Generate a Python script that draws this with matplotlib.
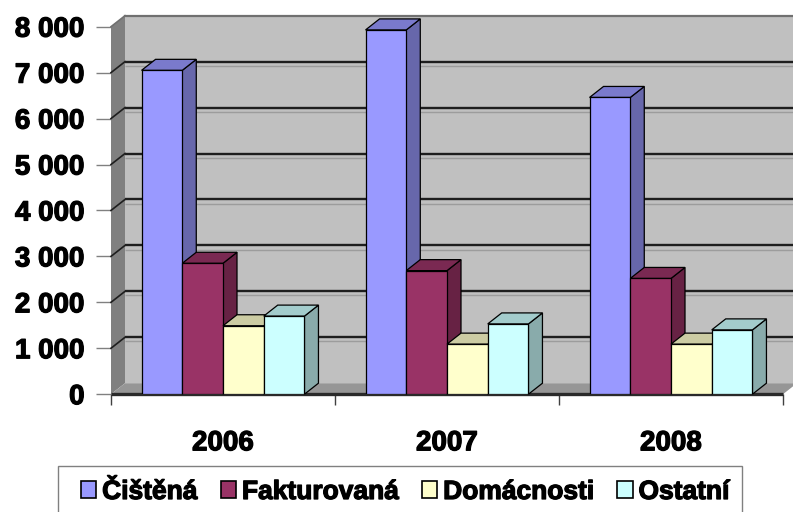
"""Excel-style 3D clustered column chart: Čištěná / Fakturovaná / Domácnosti / Ostatní, 2006-2008."""

import matplotlib
matplotlib.use("Agg")
from matplotlib import pyplot as plt
from matplotlib import patheffects
from matplotlib.patches import Polygon, Rectangle, Patch
from matplotlib.ticker import FuncFormatter
import numpy as np

YEARS = ["2006", "2007", "2008"]
SERIES = ["Čištěná", "Fakturovaná", "Domácnosti", "Ostatní"]
CISTENA = [7050, 7930, 6460]
FAKTUROVANA = [2850, 2690, 2520]
DOMACNOSTI = [1490, 1090, 1090]
OSTATNI = [1700, 1530, 1400]
VALUES = [CISTENA, FAKTUROVANA, DOMACNOSTI, OSTATNI]
YTICKS = [0, 1000, 2000, 3000, 4000, 5000, 6000, 7000, 8000]

FRONT = ["#9999FF", "#993366", "#FFFFCC", "#CCFFFF"]

DX, DY = 14, 11        # depth offset in pixels
GAP = 1.5              # Excel gap width 150 %
FONT = "Liberation Sans"
HEAVY = [patheffects.withStroke(linewidth=0.9, foreground="black")]

plt.rcParams["font.family"] = [FONT, "DejaVu Sans"]
plt.rcParams["font.weight"] = "bold"


def shade(hexcol, k):
    return np.array(matplotlib.colors.to_rgb(hexcol)) * k


fig = plt.figure(figsize=(7.93, 5.12), dpi=100)
W, H = 793, 512
ax = fig.add_axes([111 / W, (H - 394.2) / H, 672 / W, 367.5 / H])
ax.set_xlim(0, 3)
ax.set_ylim(0, 8000)
for s in ax.spines.values():
    s.set_visible(False)
ax.patch.set_visible(False)


def back(x, y):
    p = ax.transData.transform((x, y))
    return ax.transData.inverted().transform(p + np.array([DX, DY]))


def poly(pts, **kw):
    ax.add_patch(Polygon(pts, closed=True, clip_on=False, **kw))


# walls and floor
poly([back(0, 0), back(3, 0), back(3, 8000), back(0, 8000)],
     facecolor="#C0C0C0", edgecolor="none", zorder=1)
poly([(0, 0), (0, 8000), back(0, 8000), back(0, 0)],
     facecolor="#808080", edgecolor="none", zorder=1)
poly([(0, 0), (3, 0), back(3, 0), back(0, 0)],
     facecolor="#969696", edgecolor="none", zorder=1)

for v in YTICKS[1:-1]:
    b0, b1 = back(0, v), back(3, v)
    ax.plot([b0[0], b1[0]], [b0[1] - 90, b1[1] - 90], color="#9C9C9C", lw=1.0,
            zorder=2, clip_on=False, solid_capstyle="butt")
    ax.plot([b0[0], b1[0]], [b0[1], b1[1]], color="#1E1E1E", lw=1.7,
            zorder=2, clip_on=False, solid_capstyle="butt")
    ax.plot([0, b0[0]], [v, b0[1]], color="#1E1E1E", lw=1.2,
            zorder=2, clip_on=False)
t0, t1 = back(0, 8000), back(3, 8000)
ax.plot([t0[0], t1[0]], [t0[1], t1[1]], color="#707070", lw=1.6,
        zorder=2, clip_on=False)
ax.plot([0, t0[0]], [8000, t0[1]], color="#707070", lw=1.2, zorder=2, clip_on=False)
ax.plot([0, 3], [0, 0], color="#2A2A2A", lw=2.4, zorder=3, clip_on=False,
        solid_capstyle="butt")

# bars
w = 1 / (len(SERIES) + GAP)
x_group = np.arange(len(YEARS)) + GAP / 2 * w
for j, (vals, col) in enumerate(zip(VALUES, FRONT)):
    x0s = x_group + j * w
    for x0, h in zip(x0s, vals):
        poly([(x0 + w, 0), (x0 + w, h), back(x0 + w, h), back(x0 + w, 0)],
             facecolor=shade(col, 0.67), edgecolor="black", lw=0.9,
             zorder=10 + 2 * j)
        poly([(x0, h), (x0 + w, h), back(x0 + w, h), back(x0, h)],
             facecolor=shade(col, 0.8), edgecolor="black", lw=0.9,
             zorder=10 + 2 * j)
    ax.bar(x0s, vals, width=w, align="edge", color=col, edgecolor="black",
           lw=0.9, zorder=11 + 2 * j)

# axes ticks
ax.set_yticks(YTICKS)
ax.yaxis.set_major_formatter(FuncFormatter(lambda v, _: f"{v:,.0f}".replace(",", " ")))
ax.tick_params(axis="y", length=11, color="#808080", width=1, pad=8,
               labelsize=20)
ax.set_xticks([0, 1, 2, 3])
ax.set_xticklabels([])
ax.set_xticks([0.5, 1.5, 2.5], minor=True)
ax.set_xticklabels(YEARS, minor=True)
ax.tick_params(axis="x", which="major", length=8, color="#404040", width=1)
ax.tick_params(axis="x", which="minor", length=0, pad=26, labelsize=20)
for lab in ax.get_yticklabels() + ax.get_xticklabels(minor=True):
    lab.set_path_effects(HEAVY)

# legend
handles = [Patch(facecolor=c, edgecolor="black", lw=1.2) for c in FRONT]
leg = fig.legend(handles, SERIES, ncol=4, loc="center left",
                 bbox_to_anchor=(81 / W, 1 - 492 / H), frameon=False,
                 borderpad=0, borderaxespad=0, handlelength=0.58, handleheight=0.62,
                 handletextpad=0.22, columnspacing=0.88,
                 prop={"family": FONT, "weight": "bold", "size": 19})
for t in leg.get_texts():
    t.set_path_effects(HEAVY)
fig.patches.append(Rectangle((58 / W, -0.02), (742 - 58) / W, (H - 465.7) / H + 0.02,
                             transform=fig.transFigure, fill=False,
                             edgecolor="#808080", lw=1))

fig.savefig("out.png", dpi=100)
